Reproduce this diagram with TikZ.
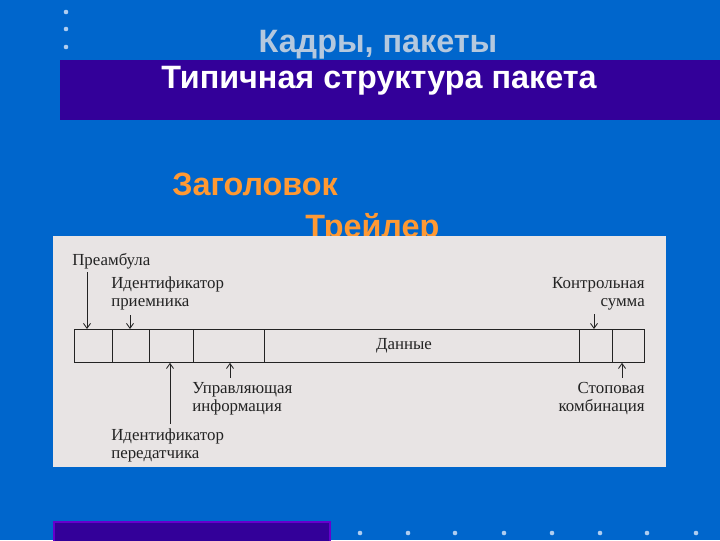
\documentclass[tikz,border=0pt]{standalone}
\usepackage{fontspec}
\setmainfont{Liberation Serif}
\newfontfamily\headfont{Liberation Sans}
\usepackage{xcolor}
\usepackage{tikz}
\usetikzlibrary{calc, arrows.meta}

\definecolor{slideblue}{RGB}{0,102,204}
\definecolor{bandpurple}{RGB}{51,0,153}
\definecolor{framepurple}{RGB}{102,0,204}
\definecolor{titlegray}{RGB}{180,200,222}
\definecolor{headorange}{RGB}{255,153,51}
\definecolor{figgray}{RGB}{232,228,228}
\definecolor{ink}{RGB}{35,35,35}
\definecolor{dotblue}{RGB}{175,205,240}

\begin{document}
\begin{tikzpicture}[x=0.025cm, y=-0.025cm,
  headtext/.style={font=\headfont\bfseries\fontsize{23}{26}\selectfont, inner sep=0},
  lbl/.style={text=ink, font=\fontsize{12}{12.8}\selectfont, inner sep=0},
  cell/.style={draw=ink, line width=0.6pt, minimum height=0.825cm, inner sep=0, anchor=north west},
  arr/.style={-{Straight Barb[length=3.5pt,width=5pt]}, ink, line width=0.6pt}]
  % slide background
  \fill[slideblue] (0,0) rectangle (720,540);
  \useasboundingbox (0,0) rectangle (720,540);
  \foreach \y in {12,29,47}
    \fill[dotblue] (66,\y) circle (2.3);
  \node[headtext, text=titlegray, anchor=base] (title) at (378,52) {Кадры, пакеты};
  \fill[bandpurple] (60,60) rectangle (720,120);
  \node[headtext, text=white, anchor=base] (subtitle) at (379,88) {Типичная структура пакета};
  \node[headtext, text=headorange, anchor=base west] (hdr) at (172,195) {Заголовок};
  \node[headtext, text=headorange, anchor=base west] (trl) at (305,237) {Трейлер};
  % scanned figure
  \fill[figgray] (53,236) rectangle (666,467);
  \foreach \a/\b/\n in {74/112/c1, 112/149/c2, 149/193/c3, 193/264/c4,
                        264/579/c5, 579/612/c6, 612/644/c7}
    \node[cell, minimum width={(\b-\a)*0.025cm}] (\n) at (\a,329) {};
  \node[lbl] (data) at (c5.center -| 404,0) {Данные};
  % labels above
  \node[lbl, anchor=base west] (pre) at (72,265) {Преамбула};
  \node[lbl, anchor=north west, align=left] (rcv) at (111,277) {Идентификатор\\приемника};
  \node[lbl, anchor=north east, align=right] (crc) at (645,277) {Контрольная\\сумма};
  % labels below
  \node[lbl, anchor=north west, align=left] (ctl) at (192,382) {Управляющая\\информация};
  \node[lbl, anchor=north west, align=left] (snd) at (111,428) {Идентификатор\\передатчика};
  \node[lbl, anchor=north east, align=right] (stp) at (645,382) {Стоповая\\комбинация};
  % arrow tips on the bar
  \coordinate (preTip) at ($(c1.north west)+(13,0)$);
  \coordinate (rcvTip) at ($(c2.north west)+(18,0)$);
  \coordinate (crcTip) at ($(c6.north west)+(15,0)$);
  \coordinate (sndTip) at ($(c3.south west)+(21,0)$);
  \coordinate (ctlTip) at ($(c4.south west)+(37,0)$);
  \coordinate (stpTip) at ($(c7.south west)+(10,0)$);
  \draw[arr] ([yshift=-5pt]pre.base -| preTip) -- (preTip);
  \draw[arr] ([yshift=-3pt]rcv.south -| rcvTip) -- (rcvTip);
  \draw[arr] ([yshift=-3pt]crc.south -| crcTip) -- (crcTip);
  \draw[arr] ([yshift=3pt]snd.north -| sndTip) -- (sndTip);
  \draw[arr] ([yshift=3pt]ctl.north -| ctlTip) -- (ctlTip);
  \draw[arr] ([yshift=3pt]stp.north -| stpTip) -- (stpTip);
  % footer
  \draw[framepurple, fill=bandpurple, line width=1pt] (54,522) rectangle (330,545);
  \foreach \x in {360,408,455,504,552,600,647,696}
    \fill[dotblue] (\x,533) circle (2.3);
\end{tikzpicture}
\end{document}
